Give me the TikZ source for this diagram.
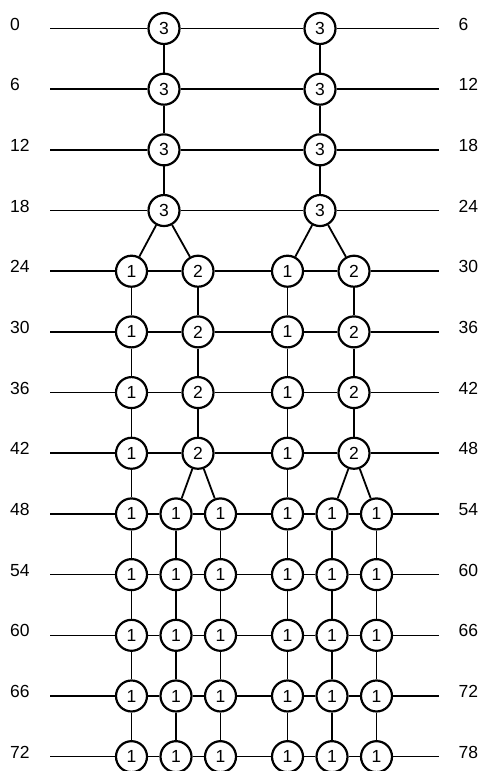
\documentclass[tikz,border=0pt]{standalone}
\usepackage{fontspec}
\setmainfont{Liberation Sans}
\begin{document}
\begin{tikzpicture}[x=1pt,y=-1pt,
  font=\fontsize{17.5}{19}\selectfont,
  cnode/.style={circle,draw,line width=2.2pt,fill=white,minimum size=31pt,inner sep=0pt},
  hline/.style={line width=1.6pt},
  vline/.style={line width=1.8pt},
  lab/.style={anchor=west,inner sep=0pt}]
\useasboundingbox (0,0) rectangle (482,771);
% row ends and labels
\foreach \i in {0,...,12}{
  \pgfmathsetmacro\y{28.5+60.68*\i}
  \pgfmathtruncatemacro\l{6*\i}
  \pgfmathtruncatemacro\r{6*\i+6}
  \coordinate (L\i) at (50,\y);
  \coordinate (R\i) at (439,\y);
  \node[lab] (ll\i) at (10,\y-4.5) {\l};
  \node[lab] (rl\i) at (458.5,\y-4.5) {\r};
}
% rows 0-3
\foreach \i in {0,...,3}{
  \pgfmathsetmacro\y{28.5+60.68*\i}
  \node[cnode] (A\i) at (164,\y) {3};
  \node[cnode] (AA\i) at (320,\y) {3};
  \draw[hline] (L\i) -- (A\i) -- (AA\i) -- (R\i);
}
% rows 4-7
\foreach \i in {4,...,7}{
  \pgfmathsetmacro\y{28.5+60.68*\i}
  \node[cnode] (B\i) at (131.5,\y) {1};
  \node[cnode] (D\i) at (198,\y) {2};
  \node[cnode] (BB\i) at (287.5,\y) {1};
  \node[cnode] (DD\i) at (354,\y) {2};
  \draw[hline] (L\i) -- (B\i) -- (D\i) -- (BB\i) -- (DD\i) -- (R\i);
}
% rows 8-12
\foreach \i in {8,...,12}{
  \pgfmathsetmacro\y{28.5+60.68*\i}
  \node[cnode] (B\i) at (131.5,\y) {1};
  \node[cnode] (C\i) at (176,\y) {1};
  \node[cnode] (E\i) at (220.5,\y) {1};
  \node[cnode] (BB\i) at (287.5,\y) {1};
  \node[cnode] (CC\i) at (332,\y) {1};
  \node[cnode] (EE\i) at (376.5,\y) {1};
  \draw[hline] (L\i) -- (B\i) -- (C\i) -- (E\i) -- (BB\i) -- (CC\i) -- (EE\i) -- (R\i);
}
% vertical connectors
\draw[vline] (A0) -- (A1) -- (A2) -- (A3);
\draw[vline] (AA0) -- (AA1) -- (AA2) -- (AA3);
\draw[vline] (A3) -- (B4);
\draw[vline] (A3) -- (D4);
\draw[vline] (AA3) -- (BB4);
\draw[vline] (AA3) -- (DD4);
\foreach \i [evaluate=\i as \j using int(\i+1)] in {4,...,11}{
  \draw[vline] (B\i) -- (B\j);
  \draw[vline] (BB\i) -- (BB\j);
}
\foreach \i [evaluate=\i as \j using int(\i+1)] in {4,...,6}{
  \draw[vline] (D\i) -- (D\j);
  \draw[vline] (DD\i) -- (DD\j);
}
\draw[vline] (D7) -- (C8);
\draw[vline] (D7) -- (E8);
\draw[vline] (DD7) -- (CC8);
\draw[vline] (DD7) -- (EE8);
\foreach \i [evaluate=\i as \j using int(\i+1)] in {8,...,11}{
  \draw[vline] (C\i) -- (C\j);
  \draw[vline] (E\i) -- (E\j);
  \draw[vline] (CC\i) -- (CC\j);
  \draw[vline] (EE\i) -- (EE\j);
}
\end{tikzpicture}
\end{document}
